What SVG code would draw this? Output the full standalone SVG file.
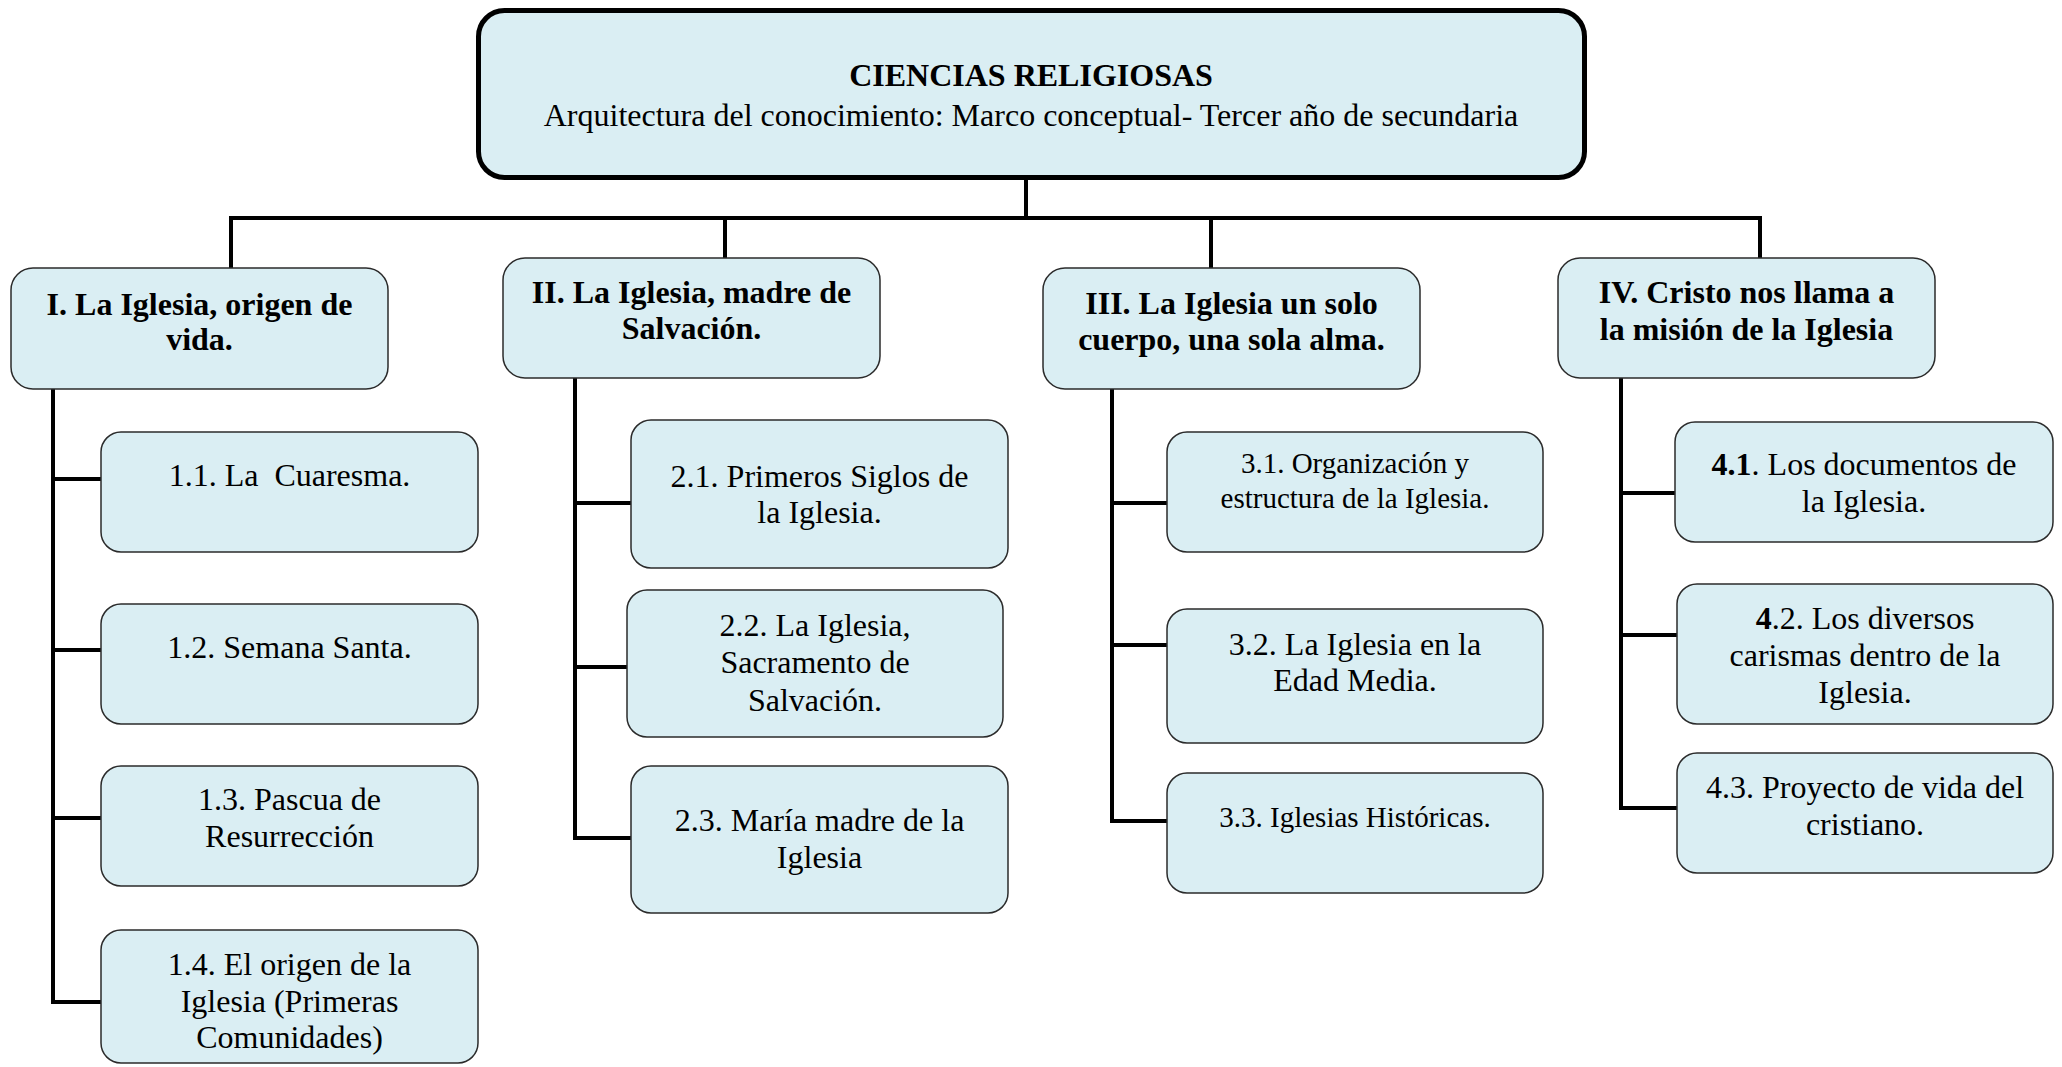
<svg xmlns="http://www.w3.org/2000/svg" width="2062" height="1067" viewBox="0 0 2062 1067">
<style>
text{font-family:"Liberation Serif","Times New Roman",serif;fill:#000;text-anchor:middle;white-space:pre}
.h{font-size:32px;font-weight:bold}
.t{font-size:32px}
.s{font-size:29px}
.box{fill:#DAEEF3;stroke:#2b2b2b;stroke-width:1.5}
.root{fill:#DAEEF3;stroke:#000;stroke-width:5}
.c{fill:none;stroke:#000;stroke-width:4;stroke-linecap:square}
</style>
<rect width="2062" height="1067" fill="#fff"/>
<g id="connectors">
<path class="c" d="M1026 180V218M231 218H1760M231 218V268M725 218V258M1211 218V268M1760 218V258"/>
<path class="c" d="M53 389V1002M53 479H101M53 650H101M53 818H101M53 1002H101"/>
<path class="c" d="M575 378V838M575 503H631M575 667H627M575 838H631"/>
<path class="c" d="M1112 389V821M1112 503H1167M1112 645H1167M1112 821H1167"/>
<path class="c" d="M1621 378V808M1621 493H1675M1621 635H1677M1621 808H1677"/>
</g>
<g id="root">
<rect class="root" x="478.5" y="10.5" width="1106" height="167" rx="26"/>
<text class="h" x="1031" y="86">CIENCIAS RELIGIOSAS</text>
<text class="t" x="1031" y="126">Arquitectura del conocimiento: Marco conceptual- Tercer año de secundaria</text>
</g>
<g id="n1">
<rect class="box" x="11" y="268" width="377" height="121" rx="22"/>
<text class="h" x="199.5" y="315">I. La Iglesia, origen de</text>
<text class="h" x="199.5" y="350">vida.</text>
</g>
<g id="n2">
<rect class="box" x="503" y="258" width="377" height="120" rx="22"/>
<text class="h" x="691.5" y="303">II. La Iglesia, madre de</text>
<text class="h" x="691.5" y="339">Salvación.</text>
</g>
<g id="n3">
<rect class="box" x="1043" y="268" width="377" height="121" rx="22"/>
<text class="h" x="1231.5" y="314">III. La Iglesia un solo</text>
<text class="h" x="1231.5" y="350">cuerpo, una sola alma.</text>
</g>
<g id="n4">
<rect class="box" x="1558" y="258" width="377" height="120" rx="22"/>
<text class="h" x="1746.5" y="303">IV. Cristo nos llama a</text>
<text class="h" x="1746.5" y="340">la misión de la Iglesia</text>
</g>
<g id="n1_1">
<rect class="box" x="101" y="432" width="377" height="120" rx="20"/>
<text class="t" x="289.5" y="486">1.1. La  Cuaresma.</text>
</g>
<g id="n1_2">
<rect class="box" x="101" y="604" width="377" height="120" rx="20"/>
<text class="t" x="289.5" y="658">1.2. Semana Santa.</text>
</g>
<g id="n1_3">
<rect class="box" x="101" y="766" width="377" height="120" rx="20"/>
<text class="t" x="289.5" y="810">1.3. Pascua de</text>
<text class="t" x="289.5" y="847">Resurrección</text>
</g>
<g id="n1_4">
<rect class="box" x="101" y="930" width="377" height="133" rx="20"/>
<text class="t" x="289.5" y="975">1.4. El origen de la</text>
<text class="t" x="289.5" y="1012">Iglesia (Primeras</text>
<text class="t" x="289.5" y="1048">Comunidades)</text>
</g>
<g id="n2_1">
<rect class="box" x="631" y="420" width="377" height="148" rx="20"/>
<text class="t" x="819.5" y="487">2.1. Primeros Siglos de</text>
<text class="t" x="819.5" y="523">la Iglesia.</text>
</g>
<g id="n2_2">
<rect class="box" x="627" y="590" width="376" height="147" rx="20"/>
<text class="t" x="815" y="636">2.2. La Iglesia,</text>
<text class="t" x="815" y="673">Sacramento de</text>
<text class="t" x="815" y="711">Salvación.</text>
</g>
<g id="n2_3">
<rect class="box" x="631" y="766" width="377" height="147" rx="20"/>
<text class="t" x="819.5" y="831">2.3. María madre de la</text>
<text class="t" x="819.5" y="868">Iglesia</text>
</g>
<g id="n3_1">
<rect class="box" x="1167" y="432" width="376" height="120" rx="20"/>
<text class="s" x="1355" y="473">3.1. Organización y</text>
<text class="s" x="1355" y="508">estructura de la Iglesia.</text>
</g>
<g id="n3_2">
<rect class="box" x="1167" y="609" width="376" height="134" rx="20"/>
<text class="t" x="1355" y="655">3.2. La Iglesia en la</text>
<text class="t" x="1355" y="691">Edad Media.</text>
</g>
<g id="n3_3">
<rect class="box" x="1167" y="773" width="376" height="120" rx="20"/>
<text class="s" x="1355" y="827">3.3. Iglesias Históricas.</text>
</g>
<g id="n4_1">
<rect class="box" x="1675" y="422" width="378" height="120" rx="20"/>
<text class="t" x="1864" y="475"><tspan font-weight="bold">4.1</tspan>. Los documentos de</text>
<text class="t" x="1864" y="512">la Iglesia.</text>
</g>
<g id="n4_2">
<rect class="box" x="1677" y="584" width="376" height="140" rx="20"/>
<text class="t" x="1865" y="629"><tspan font-weight="bold">4</tspan>.2. Los diversos</text>
<text class="t" x="1865" y="666">carismas dentro de la</text>
<text class="t" x="1865" y="703">Iglesia.</text>
</g>
<g id="n4_3">
<rect class="box" x="1677" y="753" width="376" height="120" rx="20"/>
<text class="s" x="1865" y="798" style="font-size:32px">4.3. Proyecto de vida del</text>
<text class="t" x="1865" y="835">cristiano.</text>
</g>
</svg>
